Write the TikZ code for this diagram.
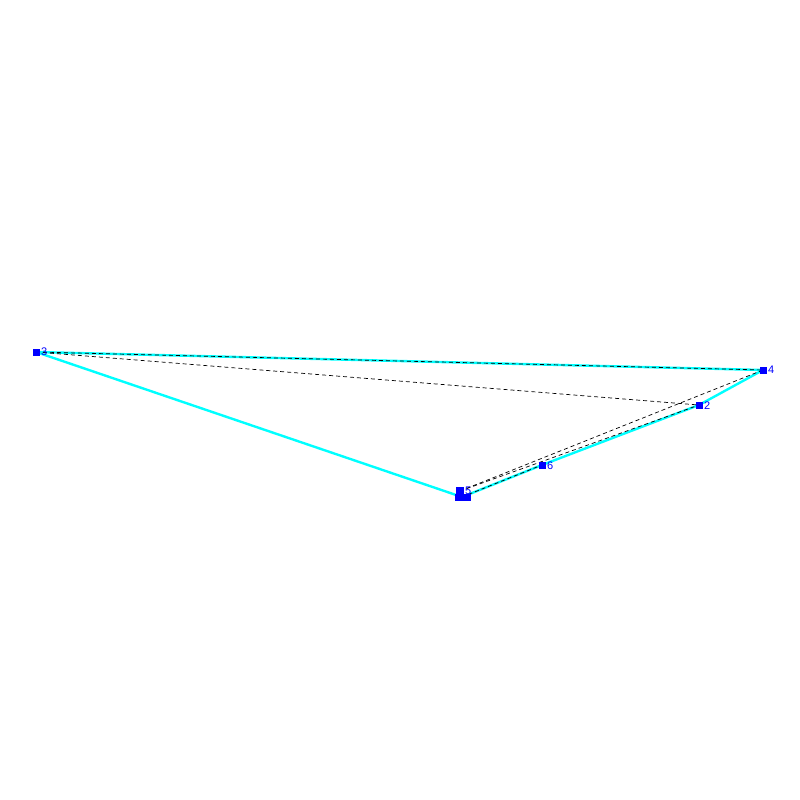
\documentclass[tikz,border=0pt]{standalone}
\usepackage{fontspec}
\setmainfont{Liberation Sans}
\definecolor{aqua}{RGB}{0,255,255}
\begin{document}
\begin{tikzpicture}[x=1pt,y=-1pt,
  vtx/.style={fill=blue,draw=none,minimum size=7pt,inner sep=0pt,outer sep=0pt,rectangle},
  lbl/.style={text=blue,font=\fontsize{11}{11}\selectfont,inner sep=0pt,anchor=west},
  edge/.style={draw=aqua,line width=2.4pt},
  dsh/.style={draw=black,line width=0.7pt,dash pattern=on 4pt off 3pt}]
\useasboundingbox (0,0) rectangle (800,800);
\node[vtx] (n3) at (36,352) {};
\node[vtx] (n4) at (763,370) {};
\node[vtx] (n2) at (699,405) {};
\node[vtx] (n6) at (542,465) {};
\node[vtx] (n1) at (462,497) {};
\node[vtx,minimum size=8pt] (n5) at (460,491) {};
% cyan edges
\draw[edge] (n3.center) -- (n4.center);
\draw[edge] (n3.center) -- (n1.center);
\draw[edge] (n1.center) -- (n6.center);
\draw[edge] (n6.center) -- (n2.center);
\draw[edge] (n2.center) -- (n4.center);
% dashed edges
\draw[dsh] (n3.center) -- (n4.center);
\draw[dsh] (n3.center) -- (n2.center);
\draw[dsh] (n5.center) -- (n4.center);
\draw[dsh] (n5.center) -- (n2.center);
\draw[dsh] (n1.center) -- (n6.center);
% squares on top
\node[vtx] at (n3) {};
\node[vtx] at (n4) {};
\node[vtx] at (n2) {};
\node[vtx] at (n6) {};
\node[vtx,minimum width=16pt] at (463,497) {};
\node[vtx,minimum size=8pt] at (n5) {};
% labels
\node[lbl] (l3) at (41,352) {3};
\node[lbl] (l4) at (768,370) {4};
\node[lbl] (l2) at (704,406) {2};
\node[lbl] (l6) at (547,466) {6};
\node[lbl] (l5) at (465,491) {5};
\end{tikzpicture}
\end{document}
